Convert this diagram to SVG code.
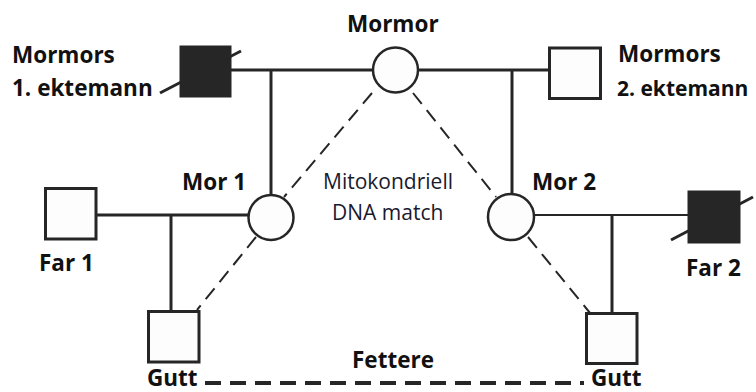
<svg xmlns="http://www.w3.org/2000/svg" width="756" height="392" viewBox="0 0 756 392">
<style>
.bg{fill:#ffffff}
.lbl{font-family:"Open Sans","Liberation Sans",sans-serif;font-weight:bold;font-size:22.5px;fill:#111}
.note{font-family:"Open Sans","Liberation Sans",sans-serif;font-size:21px;fill:#1a1a2e}
.sq{fill:#fdfdfd;stroke:#262626;stroke-width:3}
.sqd{fill:#262626;stroke:#262626;stroke-width:1}
.ci{fill:#fdfdfd;stroke:#262626;stroke-width:2.5}
.ln{stroke:#262626;stroke-width:3;fill:none}
.thin{stroke:#262626;stroke-width:1.8;fill:none}
.dash{stroke:#262626;stroke-width:2;fill:none;stroke-dasharray:14 8}
.fet{stroke:#262626;stroke-width:4;fill:none;stroke-dasharray:16 9}
.sl{stroke:#262626;stroke-width:3;fill:none}
</style>
<rect class="bg" x="0" y="0" width="756" height="392"/>
<g id="connectors">
<line class="ln" x1="231" y1="70" x2="373" y2="70"/>
<line class="ln" x1="418" y1="70" x2="549" y2="70"/>
<line class="ln" x1="271" y1="70" x2="271" y2="195"/>
<line class="ln" x1="512" y1="70" x2="512" y2="194"/>
<line class="ln" x1="96" y1="215" x2="249" y2="215"/>
<line class="ln" x1="171" y1="215" x2="171" y2="311"/>
<line class="thin" x1="534" y1="215" x2="688" y2="215"/>
<line class="ln" x1="612" y1="215" x2="612" y2="313"/>
<line class="dash" x1="372" y1="93" x2="284" y2="197"/>
<line class="dash" x1="256" y1="237" x2="197" y2="310"/>
<line class="dash" x1="413" y1="93" x2="496" y2="197"/>
<line class="dash" x1="528" y1="237" x2="590" y2="313"/>
<line class="fet" x1="205" y1="383" x2="584" y2="383"/>
</g>
<g id="mormors1">
<line class="sl" x1="160" y1="93" x2="241" y2="51"/>
<rect class="sqd" x="180" y="46" width="51" height="51"/>
<text class="lbl" x="12" y="63">Mormors</text>
<text class="lbl" x="12" y="96">1. ektemann</text>
</g>
<g id="mormor">
<circle class="ci" cx="395.5" cy="70" r="22.5"/>
<text class="lbl" x="347" y="32">Mormor</text>
</g>
<g id="mormors2">
<rect class="sq" x="549.5" y="48" width="51" height="50.5"/>
<text class="lbl" x="618" y="62">Mormors</text>
<text class="lbl" x="617" y="96" style="font-size:21px">2. ektemann</text>
</g>
<g id="mor1">
<circle class="ci" cx="271" cy="217.5" r="22.5"/>
<text class="lbl" x="182" y="190">Mor 1</text>
</g>
<g id="mor2">
<circle class="ci" cx="511" cy="217" r="23"/>
<text class="lbl" x="532" y="190">Mor 2</text>
</g>
<g id="far1">
<rect class="sq" x="45.5" y="188.5" width="50.5" height="50.5"/>
<text class="lbl" x="39" y="271">Far 1</text>
</g>
<g id="far2">
<line class="sl" x1="671" y1="240" x2="753" y2="197"/>
<rect class="sqd" x="688" y="191" width="52" height="52"/>
<text class="lbl" x="686" y="276">Far 2</text>
</g>
<g id="gutt1">
<rect class="sq" x="148.5" y="311.5" width="50.5" height="50.5"/>
<text class="lbl" x="147" y="386">Gutt</text>
</g>
<g id="gutt2">
<rect class="sq" x="586.5" y="313.5" width="50.5" height="50"/>
<text class="lbl" x="591" y="386">Gutt</text>
</g>
<g id="notes">
<text class="note" x="323" y="189">Mitokondriell</text>
<text class="note" x="332" y="220">DNA match</text>
<text class="lbl" x="352" y="368">Fettere</text>
</g>
</svg>
